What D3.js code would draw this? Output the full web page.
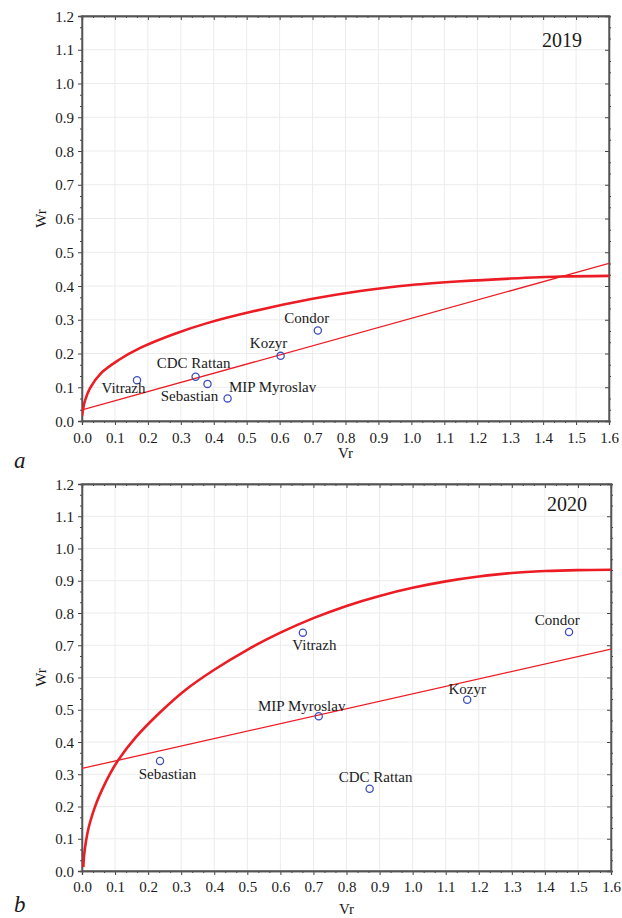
<!DOCTYPE html>
<html>
<head>
<meta charset="utf-8">
<script src="https://cdn.jsdelivr.net/npm/d3@7/dist/d3.min.js"></script>
<style>
  html, body { margin: 0; padding: 0; background: #fff; }
  svg { display: block; }
  text { font-family: "Liberation Serif", "Times New Roman", serif; fill: #1a1a1a; }
</style>
</head>
<body>
<svg id="chart" width="622" height="918"></svg>
<script>
// ---------------- DATA ----------------
const xTickValues = [0, 0.1, 0.2, 0.3, 0.4, 0.5, 0.6, 0.7, 0.8, 0.9, 1.0, 1.1, 1.2, 1.3, 1.4, 1.5, 1.6];
const yTickValues = [0, 0.1, 0.2, 0.3, 0.4, 0.5, 0.6, 0.7, 0.8, 0.9, 1.0, 1.1, 1.2];

// 2019 (panel a)
const genotypes2019 = ["Vitrazh", "CDC Rattan", "Sebastian", "MIP Myroslav", "Kozyr", "Condor"];
const vr2019 = [0.167, 0.345, 0.381, 0.442, 0.603, 0.716];
const wr2019 = [0.121, 0.131, 0.110, 0.067, 0.193, 0.268];
const parabolaVr2019 = [0.0, 0.009, 0.024, 0.058, 0.11, 0.18, 0.28, 0.38, 0.52, 0.70, 0.85, 1.0, 1.15, 1.3, 1.45, 1.6];
const parabolaWr2019 = [0.015, 0.06, 0.097, 0.142, 0.18, 0.218, 0.258, 0.29, 0.325, 0.362, 0.386, 0.403, 0.414, 0.422, 0.428, 0.43];
const lineVr2019 = [0.0, 1.6];
const lineWr2019 = [0.033, 0.467];

// 2020 (panel b)
const genotypes2020 = ["Vitrazh", "Condor", "Kozyr", "MIP Myroslav", "Sebastian", "CDC Rattan"];
const vr2020 = [0.668, 1.473, 1.165, 0.716, 0.236, 0.870];
const wr2020 = [0.739, 0.741, 0.531, 0.480, 0.341, 0.255];
const parabolaVr2020 = [0.004, 0.006, 0.012, 0.02, 0.032, 0.045, 0.063, 0.085, 0.109, 0.163, 0.234, 0.311, 0.40, 0.50, 0.60, 0.70, 0.80, 0.90, 1.00, 1.10, 1.20, 1.30, 1.40, 1.50, 1.60];
const parabolaWr2020 = [0.012, 0.045, 0.092, 0.134, 0.177, 0.215, 0.257, 0.302, 0.343, 0.415, 0.49, 0.56, 0.624, 0.686, 0.739, 0.784, 0.822, 0.853, 0.878, 0.898, 0.913, 0.924, 0.930, 0.933, 0.934];
const lineVr2020 = [0.0, 1.6];
const lineWr2020 = [0.318, 0.688];

// ---------------- LAYOUT (pixels, not data) ----------------
const labelDx2019 = [-13.5, -2, -18, 45, -12, -11];
const labelDy2019 = [12.5, -8.7, 17, -6, -8, -7.7];
const labelDx2020 = [11.5, -11.7, 0, -17, 7.5, 6];
const labelDy2020 = [17.5, -7, -6, -5.3, 18, -6.7];

const panels = [
  { year: "2019", letter: "a", left: 82, right: 609, top: 16, bottom: 421,
    names: genotypes2019, vr: vr2019, wr: wr2019,
    pVr: parabolaVr2019, pWr: parabolaWr2019, lVr: lineVr2019, lWr: lineWr2019,
    dx: labelDx2019, dy: labelDy2019,
    yearX: 582, yearY: 47, tickY: 443, titleY: 458, letterY: 468 },
  { year: "2020", letter: "b", left: 82, right: 611, top: 484, bottom: 871,
    names: genotypes2020, vr: vr2020, wr: wr2020,
    pVr: parabolaVr2020, pWr: parabolaWr2020, lVr: lineVr2020, lWr: lineWr2020,
    dx: labelDx2020, dy: labelDy2020,
    yearX: 587, yearY: 511, tickY: 892, titleY: 914, letterY: 912 }
];

const RED = "#ec1c24";
const BLUE = "#3f4fbf";
const svg = d3.select("#chart");

panels.forEach(p => {
  const x = d3.scaleLinear().domain([0, 1.6]).range([p.left, p.right]);
  const y = d3.scaleLinear().domain([0, 1.2]).range([p.bottom, p.top]);
  const g = svg.append("g");

  // grid
  g.append("g").selectAll("line").data(xTickValues.slice(1, -1)).join("line")
    .attr("x1", d => x(d)).attr("x2", d => x(d)).attr("y1", p.top).attr("y2", p.bottom)
    .attr("stroke", "#ececec").attr("stroke-width", 1);
  g.append("g").selectAll("line").data(yTickValues.slice(1, -1)).join("line")
    .attr("y1", d => y(d)).attr("y2", d => y(d)).attr("x1", p.left).attr("x2", p.right)
    .attr("stroke", "#ececec").attr("stroke-width", 1);

  // axes: bottom & left (outward), top & right (inward)
  const minorX = d3.range(0, 49).map(i => i / 30).filter((d, i) => i % 3 !== 0);
  const minorY = d3.range(0, 37).map(i => i / 30).filter((d, i) => i % 3 !== 0);

  const axB = d3.axisBottom(x).tickValues(xTickValues).tickFormat(d3.format(".1f")).tickSize(4).tickPadding(8);
  const axBm = d3.axisBottom(x).tickValues(minorX).tickFormat("").tickSize(2);
  const axL = d3.axisLeft(y).tickValues(yTickValues).tickFormat(d3.format(".1f")).tickSize(4).tickPadding(5);
  const axLm = d3.axisLeft(y).tickValues(minorY).tickFormat("").tickSize(2);
  const axT = d3.axisTop(x).tickValues(xTickValues).tickFormat("").tickSize(-4);
  const axTm = d3.axisTop(x).tickValues(minorX).tickFormat("").tickSize(-2);
  const axR = d3.axisRight(y).tickValues(yTickValues).tickFormat("").tickSize(-4);
  const axRm = d3.axisRight(y).tickValues(minorY).tickFormat("").tickSize(2);

  const gb = g.append("g").attr("transform", `translate(0,${p.bottom})`).call(axB);
  g.append("g").attr("transform", `translate(0,${p.bottom})`).call(axBm);
  const gl = g.append("g").attr("transform", `translate(${p.left},0)`).call(axL);
  g.append("g").attr("transform", `translate(${p.left},0)`).call(axLm);
  g.append("g").attr("transform", `translate(0,${p.top})`).call(axT);
  g.append("g").attr("transform", `translate(0,${p.top})`).call(axTm);
  g.append("g").attr("transform", `translate(${p.right},0)`).call(axR);
  g.append("g").attr("transform", `translate(${p.right},0)`).call(axRm);

  g.selectAll(".domain").attr("stroke", "#555").attr("stroke-width", 1.3);
  g.selectAll(".tick line").attr("stroke", "#444").attr("stroke-width", 1);
  gb.selectAll(".tick text").attr("font-size", 15).attr("fill", "#1a1a1a")
    .attr("font-family", "Liberation Serif, serif").attr("dy", null).attr("y", null)
    .attr("transform", `translate(0,${p.tickY - p.bottom})`);
  gl.selectAll(".tick text").attr("font-size", 15).attr("fill", "#1a1a1a")
    .attr("font-family", "Liberation Serif, serif").attr("x", -8).attr("dy", "0.34em");

  // frame
  g.append("rect").attr("x", p.left).attr("y", p.top).attr("width", p.right - p.left).attr("height", p.bottom - p.top)
    .attr("fill", "none").attr("stroke", "#555").attr("stroke-width", 1.3);

  // clip
  const clipId = "clip" + p.year;
  svg.append("clipPath").attr("id", clipId).append("rect")
    .attr("x", p.left).attr("y", p.top - 2).attr("width", p.right - p.left).attr("height", p.bottom - p.top + 2);

  const plot = g.append("g").attr("clip-path", `url(#${clipId})`);

  // regression line
  const lineData = p.lVr.map((v, i) => [v, p.lWr[i]]);
  plot.append("path").datum(lineData)
    .attr("d", d3.line().x(d => x(d[0])).y(d => y(d[1])))
    .attr("fill", "none").attr("stroke", RED).attr("stroke-width", 1.3);

  // limiting parabola
  const parData = p.pVr.map((v, i) => [v, p.pWr[i]]);
  plot.append("path").datum(parData)
    .attr("d", d3.line().curve(d3.curveCatmullRom.alpha(0.5)).x(d => x(d[0])).y(d => y(d[1])))
    .attr("fill", "none").attr("stroke", RED).attr("stroke-width", 2.6);

  // points
  const pts = p.names.map((n, i) => ({ n, vr: p.vr[i], wr: p.wr[i], dx: p.dx[i], dy: p.dy[i] }));
  g.append("g").selectAll("circle").data(pts).join("circle")
    .attr("cx", d => x(d.vr)).attr("cy", d => y(d.wr)).attr("r", 3.6)
    .attr("fill", "none").attr("stroke", BLUE).attr("stroke-width", 1.3);

  g.append("g").selectAll("text").data(pts).join("text")
    .attr("x", d => x(d.vr) + d.dx).attr("y", d => y(d.wr) + d.dy)
    .attr("text-anchor", "middle").attr("font-size", 15).text(d => d.n);

  // year label
  g.append("text").attr("x", p.yearX).attr("y", p.yearY).attr("text-anchor", "end")
    .attr("font-size", 20).text(p.year);

  // axis titles
  g.append("text").attr("x", (p.left + p.right) / 2).attr("y", p.titleY)
    .attr("text-anchor", "middle").attr("font-size", 15).text("Vr");
  g.append("text").attr("transform", `translate(46,${(p.top + p.bottom) / 2}) rotate(-90)`)
    .attr("text-anchor", "middle").attr("font-size", 15).text("Wr");

  // panel letter
  g.append("text").attr("x", 14).attr("y", p.letterY).attr("font-size", 23)
    .attr("font-style", "italic").text(p.letter);
});
</script>
</body>
</html>
